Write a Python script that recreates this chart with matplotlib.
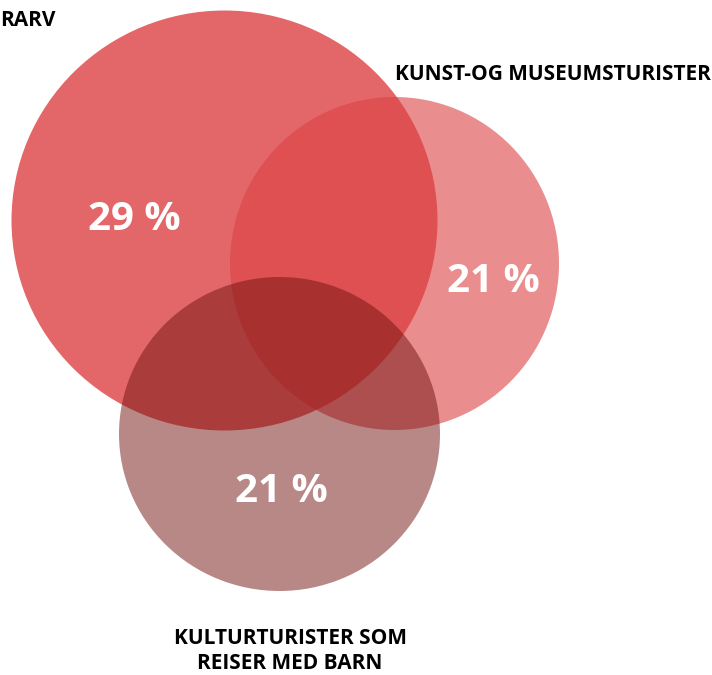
import matplotlib.pyplot as plt
from matplotlib.patches import Ellipse

# segment labels and shares
labels = ["RARV", "KUNST-OG MUSEUMSTURISTER", "KULTURTURISTER SOM\nREISER MED BARN"]
shares = [29, 21, 21]

# circle geometry in pixel coords (cx, cy, width, height)
circles = [(224.5, 220.5, 426, 420), (394.5, 263.5, 329, 333), (279.5, 434, 321, 314)]
colors = ["#dc4144", "#dc4144", "#731310"]
alphas = [0.8, 0.6, 0.5]

fig = plt.figure(figsize=(7.12, 6.75), dpi=100)
ax = fig.add_axes([0, 0, 1, 1])
ax.set_xlim(0, 712)
ax.set_ylim(675, 0)
ax.axis("off")

for (cx, cy, w, h), c, a in zip(circles, colors, alphas):
    ax.add_patch(Ellipse((cx, cy), w, h, facecolor=c, alpha=a, edgecolor="none"))

# percentages
pct_pos = [(134, 220), (493, 281), (281, 492)]
for (x, y), s in zip(pct_pos, shares):
    ax.text(x, y, f"{s} %", color="white", fontsize=29, fontweight="bold",
            family="Open Sans", ha="center", va="center")

# labels
font = dict(family="Open Sans", fontweight="bold", fontsize=15, color="black")
ax.text(0, 21, labels[0], ha="left", va="center", **font)
ax.text(553, 75, labels[1], ha="center", va="center", **font)
ax.text(290, 651, labels[2], ha="center", va="center", linespacing=1.25, **font)

fig.savefig("out.png", dpi=100)
